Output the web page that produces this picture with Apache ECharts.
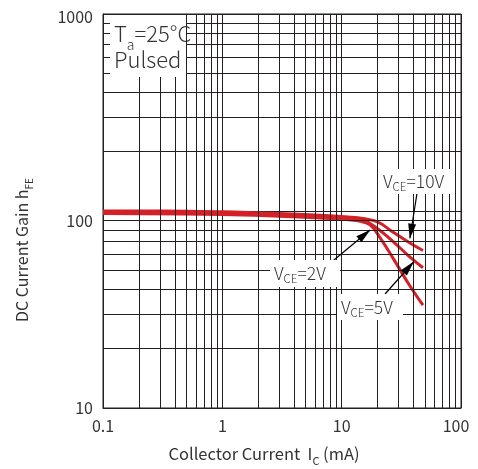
<!DOCTYPE html>
<html>
<head>
<meta charset="utf-8">
<script src="https://cdn.jsdelivr.net/npm/echarts@6/dist/echarts.min.js"></script>
<style>
  html, body { margin: 0; padding: 0; background: #fff; }
  #chart { width: 478px; height: 469px; }
</style>
</head>
<body>
<div id="chart"></div>
<script>
// Collector current (mA) and DC current gain for each V_CE
const ic10 = [0.1, 0.3, 1, 3, 8, 12, 15, 20, 27, 37, 48];
const hfe10 = [100, 100, 99, 97, 94.5, 93, 91.5, 88, 78, 69, 63];
const ic5 = [0.1, 1, 3, 8, 12, 15, 19.6, 27, 37, 48];
const hfe5 = [98.5, 97.5, 95.5, 93, 91.5, 90, 82, 70, 58.6, 51.5];
const ic2 = [0.1, 1, 3, 8, 12, 14, 17.3, 21, 27, 37, 48];
const hfe2 = [97, 96, 94, 91.5, 90, 89, 85, 73, 57.5, 42, 33.3];

// Minor grid values between the decades
const xMinor = [0.2, 0.3, 0.4, 0.5, 0.6, 0.7, 0.8, 0.9, 2, 3, 4, 5, 6, 7, 8, 9, 20, 30, 40, 50, 60, 70, 80, 90];
const yMinor = [20, 30, 40, 50, 60, 70, 80, 90, 200, 300, 400, 500, 600, 700, 800, 900];

// Pointer arrows: [from (mA, hFE), tip (mA, hFE)]
const arrow10 = [[43, 125.4], [37.3, 72.7]];
const arrow2 = [[7.5, 52.6], [17.3, 80.1]];
const arrow5 = [[23.1, 37.9], [40.0, 55.1]];

const FONT = "'Noto Sans CJK SC', 'Noto Sans', sans-serif";
const INK = '#231f20';
const TXT = '#333333';
const RED = '#d42027';

const zip = (a, b) => a.map((v, i) => [v, b[i]]);

const chart = echarts.init(document.getElementById('chart'), null, { renderer: 'canvas' });

function arrowLine(pair) {
  return [
    { coord: pair[0], symbol: 'none' },
    { coord: pair[1], symbol: 'triangle', symbolSize: [8, 15], symbolOffset: [0, 7] }
  ];
}

const curveStyle = {
  type: 'line', smooth: 0.4, showSymbol: false, symbol: 'none',
  lineStyle: { color: RED, width: 3 }, itemStyle: { color: RED }, z: 3, silent: true
};

// Text with a lowered subscript; the main line box is made tall so the
// bottom-aligned subscript drops below the baseline.
const subText = (main, sub, rest, size, subSize, drop, weight) => ({
  text: `{n|${main}}{s|${sub}}{n|${rest}}`,
  rich: {
    n: { fontSize: size, fontFamily: FONT, fill: TXT, fontWeight: weight, lineHeight: size + drop },
    s: { fontSize: subSize, fontFamily: FONT, fill: TXT, fontWeight: weight, verticalAlign: 'bottom', lineHeight: subSize - 2 }
  }
});

chart.setOption({
  animation: false,
  grid: { left: 103, top: 14, width: 358, height: 394, show: true, borderColor: INK, borderWidth: 1, backgroundColor: 'transparent' },
  xAxis: {
    type: 'log', logBase: 10, min: 0.1, max: 100,
    axisLine: { show: true, lineStyle: { color: INK, width: 1 } },
    axisTick: { show: false },
    splitLine: { show: true, lineStyle: { color: INK, width: 1 } },
    axisLabel: {
      color: TXT, fontSize: 16, fontFamily: FONT, margin: 10,
      formatter: v => {
        const s = String(+Number(v).toPrecision(3));
        return s === '100' ? '{e|100}' : s;
      },
      rich: {
        e: { fontSize: 16, fontFamily: FONT, color: TXT, padding: [0, 10, 0, 0] }
      }
    }
  },
  yAxis: {
    type: 'log', logBase: 10, min: 10, max: 1000,
    axisLine: { show: true, lineStyle: { color: INK, width: 1 } },
    axisTick: { show: false },
    splitLine: { show: true, lineStyle: { color: INK, width: 1 } },
    axisLabel: {
      color: TXT, fontSize: 16, fontFamily: FONT, margin: 10,
      formatter: v => {
        const s = String(Math.round(v));
        if (s === '100') return '{m|100}';
        if (s === '1000') return '{t|1000}';
        return s;
      },
      rich: {
        m: { fontSize: 16, fontFamily: FONT, color: TXT, padding: [20, 0, 0, 0] },
        t: { fontSize: 16, fontFamily: FONT, color: TXT, padding: [6, 0, 0, 0] }
      }
    }
  },
  series: [
    {
      type: 'line', data: [], z: 1, silent: true,
      markLine: {
        silent: true, symbol: 'none', label: { show: false },
        lineStyle: { color: INK, width: 1, type: 'solid' },
        emphasis: { disabled: true },
        data: xMinor.map(v => ({ xAxis: v })).concat(yMinor.map(v => ({ yAxis: v })))
      }
    },
    Object.assign({ name: 'VCE=10V', data: zip(ic10, hfe10) }, curveStyle),
    Object.assign({ name: 'VCE=5V', data: zip(ic5, hfe5) }, curveStyle),
    Object.assign({ name: 'VCE=2V', data: zip(ic2, hfe2) }, curveStyle),
    {
      type: 'line', data: [], z: 4, silent: true, color: '#000',
      itemStyle: { color: '#000' }, lineStyle: { color: '#000' },
      markLine: {
        silent: true, label: { show: false },
        lineStyle: { color: '#000', width: 1.2, type: 'solid' },
        itemStyle: { color: '#000' },
        emphasis: { disabled: true },
        data: [arrowLine(arrow10), arrowLine(arrow2), arrowLine(arrow5)]
      }
    }
  ],
  graphic: [
    // Test condition box
    { type: 'rect', z: 100, shape: { x: 110, y: 15, width: 76, height: 62 }, style: { fill: '#fff' } },
    { type: 'text', z: 101, x: 114, y: 34, style: Object.assign(subText('T', 'a', '=25°C', 22, 14, 14, 300), { verticalAlign: 'middle', align: 'left' }) },
    { type: 'text', z: 101, x: 114, y: 60, style: { text: 'Pulsed', fontSize: 22, fontFamily: FONT, fontWeight: 300, fill: TXT, verticalAlign: 'middle', align: 'left' } },
    // Curve labels
    { type: 'rect', z: 100, shape: { x: 380, y: 169, width: 72, height: 25 }, style: { fill: '#fff' } },
    { type: 'text', z: 101, x: 383, y: 181, style: Object.assign(subText('V', 'CE', '=10V', 17.5, 11.5, 6, 300), { verticalAlign: 'middle', align: 'left' }) },
    { type: 'rect', z: 100, shape: { x: 270, y: 260, width: 70, height: 27 }, style: { fill: '#fff' } },
    { type: 'text', z: 101, x: 274, y: 273, style: Object.assign(subText('V', 'CE', '=2V', 17.5, 11.5, 6, 300), { verticalAlign: 'middle', align: 'left' }) },
    { type: 'rect', z: 100, shape: { x: 337, y: 294, width: 66, height: 26 }, style: { fill: '#fff' } },
    { type: 'text', z: 101, x: 341, y: 307, style: Object.assign(subText('V', 'CE', '=5V', 17.5, 11.5, 6, 300), { verticalAlign: 'middle', align: 'left' }) },
    // Axis titles
    { type: 'text', z: 101, x: 264, y: 454, style: Object.assign(subText('Collector Current  I', 'C', ' (mA)', 16.5, 11, 8, 'normal'), { verticalAlign: 'middle', align: 'center' }) },
    { type: 'text', z: 101, x: 22, y: 250, rotation: Math.PI / 2, style: Object.assign(subText('DC Current Gain h', 'FE', '', 16, 10, 8, 'normal'), { verticalAlign: 'middle', align: 'center' }) }
  ]
});
</script>
</body>
</html>
